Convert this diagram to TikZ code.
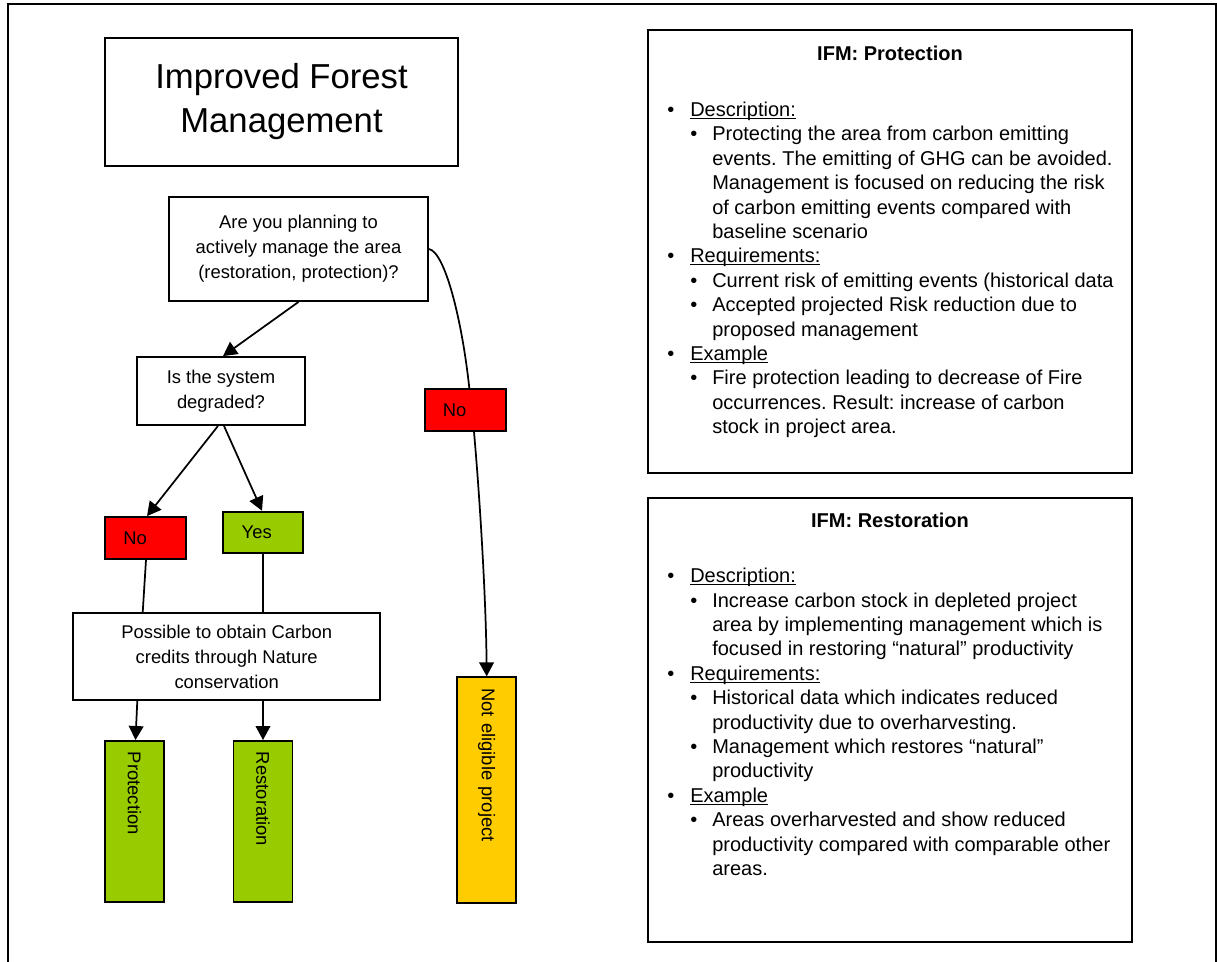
\documentclass[tikz,border=0pt]{standalone}
\usepackage{fontspec}
\setmainfont{Liberation Sans}
\usetikzlibrary{arrows.meta,calc}
\definecolor{noRed}{HTML}{FF0000}
\definecolor{yesGreen}{HTML}{99CC00}
\definecolor{neYellow}{HTML}{FFCC00}
\def\p{0.75pt}
\frenchspacing
\newcommand{\myul}[1]{\setbox0\hbox{#1}\rlap{\rule[-1.7pt]{\wd0}{0.8pt}}\box0}
\newcommand{\bulA}[1]{\makebox[17.25pt][l]{\textbullet}\myul{#1}}
\newcommand{\bulB}[1]{\hspace*{17.25pt}\makebox[16.5pt][l]{\textbullet}#1}
\newcommand{\contB}[1]{\hspace*{33.75pt}#1}
\begin{document}
\begin{tikzpicture}[x=0.75pt,y=-0.75pt,
  bx/.style={draw=black, line width=1.4pt, rectangle, inner sep=0pt,
    font=\fontsize{13.8pt}{18.6pt}\selectfont, align=center},
  flag/.style={bx, align=left, inner ysep=0pt},
  vbox/.style={bx, rotate=-90, align=left, inner xsep=11*\p, minimum height=59*\p},
  infobox/.style={draw=black, line width=1.4pt, rectangle, inner sep=0pt,
    minimum width=483.4*\p, minimum height=443.3*\p},
  head/.style={anchor=base, inner sep=0pt, font=\bfseries\fontsize{15pt}{18.3pt}\selectfont},
  body/.style={anchor=north west, inner sep=0pt, align=left, font=\fontsize{15pt}{18.3pt}\selectfont},
  ln/.style={draw=black, line width=1.3pt},
  arr/.style={ln, -{Triangle[length=10.5pt,width=11pt]}}]
\useasboundingbox (0,0) rectangle (1217,962);
\draw[line width=1.4pt] (8,962) -- (8,4) -- (1216,4) -- (1216,962);

% left flowchart
\node[bx, minimum width=353*\p, minimum height=128*\p,
  font=\fontsize{26pt}{33pt}\selectfont] (title) at (281.5,102) {Improved Forest\\Management};
\node[bx, minimum width=259*\p, minimum height=104*\p] (q) at (298.5,249)
  {Are you planning to\\actively manage the area\\(restoration, protection)?};
\node[bx, minimum width=168*\p, minimum height=68*\p] (deg) at (221,391)
  {Is the system\\degraded?};
\node[flag, fill=noRed, minimum height=42*\p, text width=44.7*\p, inner xsep=18*\p] (no2) at (465.3,410) {No};
\node[flag, fill=noRed, minimum height=42*\p, text width=44.4*\p, inner xsep=18.3*\p] (no1) at (145.5,538) {No};
\node[flag, fill=yesGreen, minimum height=41.6*\p, text width=42.6*\p, inner xsep=19*\p] (yes) at (263,532.5) {Yes};
\node[bx, minimum width=306.7*\p, minimum height=86.7*\p] (poss) at (226.7,656.7)
  {Possible to obtain Carbon\\credits through Nature\\conservation};
\node[vbox, fill=yesGreen, text width=138.7*\p] (prot) at (134.5,821.3) {Protection};
\node[vbox, fill=yesGreen, text width=138.7*\p] (rest) at (263,821.3) {Restoration};
\node[vbox, fill=neYellow, text width=204*\p, minimum height=58.7*\p] (ne) at (486.7,790.3) {Not eligible project};

\draw[arr] (q.south) -- ($(deg.north)+(2,0)$);
\draw[arr] ($(deg.south)+(-3,0)$) -- ($(no1.north)+(1.5,0)$);
\draw[arr] ($(deg.south)+(3,0)$) -- ($(yes.north)+(-1,0)$);
\draw[ln] ($(no1.south)+(0.5,0)$) -- ($(poss.north)+(-84,0)$);
\draw[ln] (yes.south) -- (yes.south |- poss.north);
\draw[arr] ($(poss.south)+(-89.4,0)$) -- ($(prot.west)+(1,0)$);
\draw[arr] (rest.west |- poss.south) -- (rest.west);
\draw[ln] (q.east) .. controls (445,252) and (462,320) .. ($(no2.north)+(4,0)$);
\draw[arr] ($(no2.south)+(8.7,0)$) .. controls (480,500) and (486,600) .. (ne.west);

% right info boxes
\node[infobox] (pbox) at (890,251.7) {};
\node[head] (ph) at (890,61) {IFM: Protection};
\node[body] (pbody) at (667,101.7) {%
\bulA{Description:}\\
\bulB{Protecting the area from carbon emitting}\\
\contB{events. The emitting of GHG can be avoided.}\\
\contB{Management is focused on reducing the risk}\\
\contB{of carbon emitting events compared with}\\
\contB{baseline scenario}\\
\bulA{Requirements:}\\
\bulB{Current risk of emitting events (historical data}\\
\bulB{Accepted projected Risk reduction due to}\\
\contB{proposed management}\\
\bulA{Example}\\
\bulB{Fire protection leading to decrease of Fire}\\
\contB{occurrences. Result: increase of carbon}\\
\contB{stock in project area.}};

\node[infobox] (rbox) at (890,720) {};
\node[head] (rh) at (890,527.7) {IFM: Restoration};
\node[body] (rbody) at (667,568) {%
\bulA{Description:}\\
\bulB{Increase carbon stock in depleted project}\\
\contB{area by implementing management which is}\\
\contB{focused in restoring “natural” productivity}\\
\bulA{Requirements:}\\
\bulB{Historical data which indicates reduced}\\
\contB{productivity due to overharvesting.}\\
\bulB{Management which restores “natural”}\\
\contB{productivity}\\
\bulA{Example}\\
\bulB{Areas overharvested and show reduced}\\
\contB{productivity compared with comparable other}\\
\contB{areas.}};
\end{tikzpicture}
\end{document}
